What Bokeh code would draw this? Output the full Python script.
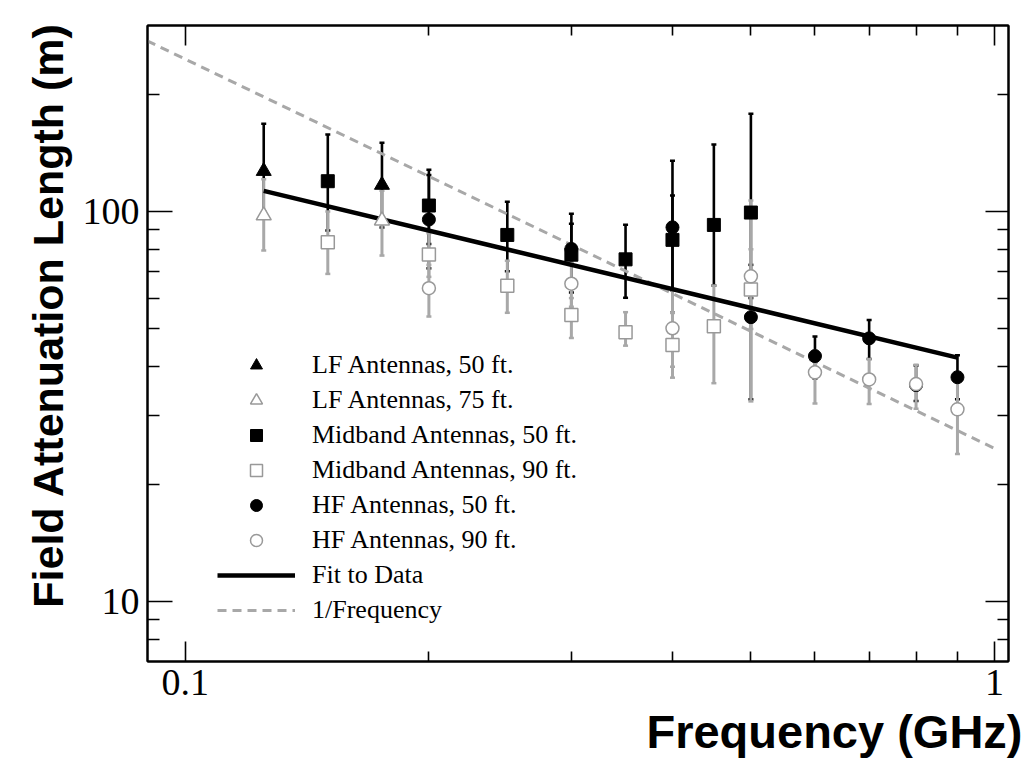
import numpy as np
from bokeh.plotting import figure
from bokeh.models import (FixedTicker, LogAxis, Whisker, TeeHead, ColumnDataSource,
                          Legend, LegendItem, Title, BasicTickFormatter)
from bokeh.embed import file_html
from bokeh.resources import INLINE

# ---------------- data ----------------
lf50_f = [0.125, 0.175]
lf50_v = [127, 117]
lf50_lo = [100, 91]
lf50_hi = [168, 150]

lf75_f = [0.125, 0.175]
lf75_v = [97.7, 94.8]
lf75_lo = [79.4, 77.1]
lf75_hi = [121, 113]

mb50_f = [0.15, 0.2, 0.25, 0.3, 0.35, 0.4, 0.45, 0.5]
mb50_v = [119.6, 103.6, 87.1, 77.5, 75.4, 84.6, 92.4, 99.4]
mb50_lo = [89.4, 82.6, 70.3, 65.0, 60.1, 62.7, 64.6, 60.0]
mb50_hi = [157.5, 128.0, 106.0, 93.0, 92.5, 110.0, 148.5, 178.0]

mb90_f = [0.15, 0.2, 0.25, 0.3, 0.35, 0.4, 0.45, 0.5]
mb90_v = [83.4, 77.6, 64.5, 54.3, 49.0, 45.5, 50.8, 63.1]
mb90_lo = [69.2, 68.0, 55.0, 47.4, 45.3, 37.5, 36.3, 32.6]
mb90_hi = [100.0, 88.0, 74.8, 60.0, 55.2, 55.0, 64.6, 106.7]

hf50_f = [0.2, 0.3, 0.4, 0.5, 0.6, 0.7, 0.8, 0.9]
hf50_v = [95.4, 80.2, 91.1, 53.6, 42.6, 47.3, 35.9, 37.6]
hf50_lo = [71.5, 62.0, 55.0, 33.0, 37.3, 41.9, 32.7, 33.0]
hf50_hi = [124.0, 98.7, 135.0, 73.0, 47.8, 52.7, 40.3, 42.8]

hf90_f = [0.2, 0.3, 0.4, 0.5, 0.6, 0.7, 0.8, 0.9]
hf90_v = [63.6, 65.3, 50.2, 68.2, 38.7, 37.1, 36.1, 31.1]
hf90_lo = [53.8, 57.0, 40.0, 50.0, 32.2, 32.1, 31.2, 23.9]
hf90_hi = [73.0, 74.0, 62.7, 80.0, 44.0, 41.9, 40.5, 36.5]

fit_x = [0.125, 0.9]
fit_y = [113.0, 42.2]

inv_x = [0.0897, 1.0]
inv_y = [274.0, 24.7]

x_tick_vals = [0.1, 1]
x_tick_labels = ["0.1", "1"]
x_minor = [0.2, 0.3, 0.4, 0.5, 0.6, 0.7, 0.8, 0.9]
y_tick_vals = [10, 100]
y_tick_labels = ["10", "100"]
y_minor = [8, 9, 20, 30, 40, 50, 60, 70, 80, 90, 200]

labels = ["LF Antennas, 50 ft.", "LF Antennas, 75 ft.", "Midband Antennas, 50 ft.",
          "Midband Antennas, 90 ft.", "HF Antennas, 50 ft.", "HF Antennas, 90 ft.",
          "Fit to Data", "1/Frequency"]

x_title = "Frequency (GHz)"
y_title = "Field Attenuation Length (m)"

# ---------------- figure ----------------
BLACK = "#000000"
GRAY = "#a8a8a8"
GRAY_MK = "#999999"

p = figure(width=1025, height=765, x_axis_type="log", y_axis_type="log",
           x_range=(0.0898, 1.0407), y_range=(7.02, 299.9),
           output_backend="svg", toolbar_location=None,
           min_border_left=147, min_border_right=17, min_border_top=25, min_border_bottom=104)
p.xgrid.visible = False
p.ygrid.visible = False
p.outline_line_color = "black"
p.outline_line_width = 2
p.background_fill_color = "white"
p.border_fill_color = "white"

xt = FixedTicker(ticks=x_tick_vals, minor_ticks=x_minor)
yt = FixedTicker(ticks=y_tick_vals, minor_ticks=y_minor)

def style_axis(ax, ticker, vals, labs, major_len, minor_len, show_labels):
    ax.ticker = ticker
    ax.formatter = BasicTickFormatter()
    ax.major_label_overrides = {v: l for v, l in zip(vals, labs)}
    ax.major_tick_in = major_len
    ax.major_tick_out = 0
    ax.minor_tick_in = minor_len
    ax.minor_tick_out = 0
    ax.major_tick_line_width = 1.6
    ax.minor_tick_line_width = 1.6
    ax.major_tick_line_color = "black"
    ax.minor_tick_line_color = "black"
    ax.axis_line_width = 2
    ax.axis_line_color = "black"
    if show_labels:
        ax.major_label_text_font = "Liberation Serif"
        ax.major_label_text_font_size = "38px"
        ax.major_label_text_color = "black"
        ax.major_label_standoff = 8
    else:
        ax.major_label_text_font_size = "0px"
        ax.major_label_standoff = 0

style_axis(p.xaxis[0], xt, x_tick_vals, x_tick_labels, 20, 10, True)
style_axis(p.yaxis[0], yt, y_tick_vals, y_tick_labels, 25, 12, True)

top_ax = LogAxis()
style_axis(top_ax, xt, x_tick_vals, x_tick_labels, 20, 10, False)
p.add_layout(top_ax, "above")
right_ax = LogAxis()
style_axis(right_ax, yt, y_tick_vals, y_tick_labels, 23, 11, False)
p.add_layout(right_ax, "right")

# ---------------- lines ----------------
r_inv = p.line(inv_x, inv_y, line_color=GRAY, line_width=3, line_dash="9 6")
r_fit = p.line(fit_x, fit_y, line_color=BLACK, line_width=4.5)

# ---------------- error bars ----------------
def add_whisker(f, lo, hi, color, width):
    src = ColumnDataSource(dict(f=f, lo=lo, hi=hi))
    w = Whisker(base="f", lower="lo", upper="hi", source=src, dimension="height",
                line_color=color, line_width=width,
                upper_head=TeeHead(size=5, line_color=color, line_width=2.5),
                lower_head=TeeHead(size=5, line_color=color, line_width=2.5))
    p.add_layout(w)

add_whisker(lf50_f, lf50_lo, lf50_hi, BLACK, 2.6)
add_whisker(mb50_f, mb50_lo, mb50_hi, BLACK, 2.6)
add_whisker(hf50_f, hf50_lo, hf50_hi, BLACK, 2.6)
add_whisker(lf75_f, lf75_lo, lf75_hi, GRAY, 3)
add_whisker(mb90_f, mb90_lo, mb90_hi, GRAY, 3)
add_whisker(hf90_f, hf90_lo, hf90_hi, GRAY, 3)

# ---------------- markers ----------------
r_lf50 = p.scatter(lf50_f, lf50_v, marker="triangle", size=15, fill_color=BLACK, line_color=BLACK)
r_lf75 = p.scatter(lf75_f, lf75_v, marker="triangle", size=15, fill_color="white",
                   line_color=GRAY_MK, line_width=1.5)
r_mb50 = p.scatter(mb50_f, mb50_v, marker="square", size=13, fill_color=BLACK, line_color=BLACK)
r_mb90 = p.scatter(mb90_f, mb90_v, marker="square", size=13, fill_color="white",
                   line_color=GRAY_MK, line_width=1.5)
r_hf50 = p.scatter(hf50_f, hf50_v, marker="circle", size=13, fill_color=BLACK, line_color=BLACK)
r_hf90 = p.scatter(hf90_f, hf90_v, marker="circle", size=13, fill_color="white",
                   line_color=GRAY_MK, line_width=1.5)

# ---------------- legend ----------------
rends = [r_lf50, r_lf75, r_mb50, r_mb90, r_hf50, r_hf90, r_fit, r_inv]
legend = Legend(items=[LegendItem(label=l, renderers=[r]) for l, r in zip(labels, rends)],
                location=(70, 36), orientation="vertical",
                glyph_height=30, glyph_width=78, label_height=30, label_standoff=17,
                spacing=5, padding=0, margin=0,
                label_text_font="Liberation Serif", label_text_font_size="26px",
                label_text_color="black",
                background_fill_alpha=0, border_line_alpha=0)
p.add_layout(legend)

# ---------------- axis titles ----------------
p.add_layout(Title(text=y_title, align="right", offset=-3, standoff=16,
                   text_font="Liberation Sans", text_font_style="bold",
                   text_font_size="43px", text_color="black"), "left")
p.add_layout(Title(text=x_title, align="right", offset=-14, standoff=10,
                   text_font="Liberation Sans", text_font_style="bold",
                   text_font_size="47px", text_color="black"), "below")

open("out.html", "w").write(file_html(p, INLINE))
